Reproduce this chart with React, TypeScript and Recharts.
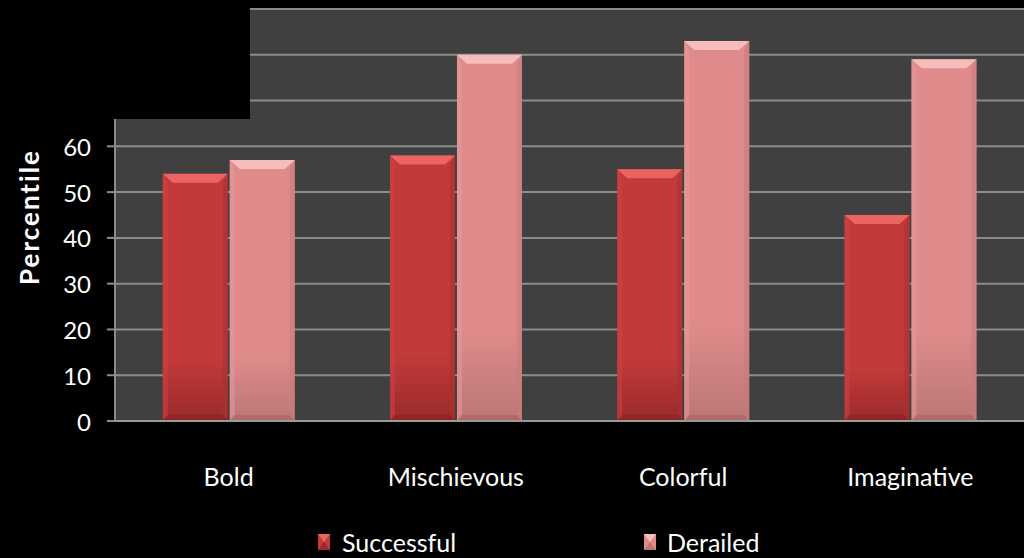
import React from 'react';
import { BarChart, Bar, XAxis, YAxis, CartesianGrid, Legend } from 'recharts';

// Percentile scores per trait
const traits = ['Bold', 'Mischievous', 'Colorful', 'Imaginative'];
const successful = [54, 58, 55, 45];
const derailed = [57, 80, 83, 79];
const yTicks = [0, 10, 20, 30, 40, 50, 60, 70, 80, 90];
const labelledTicks = [0, 10, 20, 30, 40, 50, 60];

const data = traits.map((t, i) => ({ trait: t, successful: successful[i], derailed: derailed[i] }));

const FONT = 'Lato, "Open Sans", sans-serif';

type Palette = { top: string; main: string; bottom: string; left: string; right: string; base: string };

const palettes: Record<string, Palette> = {
  successful: {
    top: '#ea6461',
    main: '#c23a3a',
    bottom: '#9a2a2a',
    left: '#cc4444',
    right: '#a83030',
    base: '#8a2424',
  },
  derailed: {
    top: '#f7bdbd',
    main: '#df8b8b',
    bottom: '#bc7676',
    left: '#e69a9a',
    right: '#c87c7c',
    base: '#a86666',
  },
};

function bevelShape(key: string) {
  return (props: any) => {
    const { x, y, width: w, height: h } = props;
    if (!h || h <= 0) return <g />;
    const p = palettes[key];
    const bt = Math.min(9, h / 2);
    const bs = 5;
    const bb = Math.min(6, h / 2);
    const gid = `grad-${key}`;
    return (
      <g>
        <rect x={x} y={y} width={w} height={h} fill={`url(#${gid})`} />
        <polygon points={`${x},${y} ${x + bs},${y + bt} ${x + bs},${y + h - bb} ${x},${y + h}`} fill={p.left} opacity={0.55} />
        <polygon points={`${x + w},${y} ${x + w - bs},${y + bt} ${x + w - bs},${y + h - bb} ${x + w},${y + h}`} fill={p.right} opacity={0.6} />
        <polygon points={`${x},${y + h} ${x + bs},${y + h - bb} ${x + w - bs},${y + h - bb} ${x + w},${y + h}`} fill={p.base} opacity={0.7} />
        <polygon points={`${x},${y} ${x + w},${y} ${x + w - bs * 2},${y + bt} ${x + bs * 2},${y + bt}`} fill={p.top} />
      </g>
    );
  };
}

const LegendIcon = ({ k }: { k: string }) => {
  const p = palettes[k];
  return (
    <svg width={12} height={16} style={{ display: 'inline-block', verticalAlign: 'middle' }}>
      <rect x={0} y={0} width={12} height={16} fill={p.main} />
      <polygon points="0,0 12,0 6,8" fill={p.top} />
      <polygon points="0,16 12,16 6,8" fill={p.bottom} />
    </svg>
  );
};

const renderLegend = () => (
  <div style={{ position: 'relative', height: 57, fontFamily: FONT, color: '#ffffff', fontSize: 25 }}>
    <div style={{ position: 'absolute', left: 318, top: 26, display: 'flex', alignItems: 'center' }}>
      <LegendIcon k="successful" />
      <span style={{ marginLeft: 12, lineHeight: '30px' }}>Successful</span>
    </div>
    <div style={{ position: 'absolute', left: 644, top: 26, display: 'flex', alignItems: 'center' }}>
      <LegendIcon k="derailed" />
      <span style={{ marginLeft: 11, lineHeight: '30px' }}>Derailed</span>
    </div>
  </div>
);

const XTick = (props: any) => {
  const { x, y, payload } = props;
  return (
    <text x={x} y={y + 47} textAnchor="middle" dominantBaseline="central" fill="#ffffff" fontFamily={FONT} fontSize={25}>
      {payload.value}
    </text>
  );
};

const YTick = (props: any) => {
  const { x, y, payload } = props;
  if (!labelledTicks.includes(payload.value)) return <g />;
  return (
    <text x={x} y={y} textAnchor="end" dominantBaseline="central" fill="#ffffff" fontFamily={FONT} fontSize={24}>
      {payload.value}
    </text>
  );
};

export default function App() {
  return (
    <div style={{ position: 'absolute', left: 0, top: 0, width: 1024, height: 558, background: '#000000', overflow: 'hidden' }}>
      <BarChart
        width={1024}
        height={558}
        data={data}
        margin={{ top: 9, right: 0, left: 0, bottom: 0 }}
        barCategoryGap="21%"
        barGap={2}
      >
        <defs>
          {Object.keys(palettes).map((k) => (
            <linearGradient key={k} id={`grad-${k}`} x1="0" y1="0" x2="0" y2="1">
              <stop offset="0%" stopColor={palettes[k].main} />
              <stop offset="75%" stopColor={palettes[k].main} />
              <stop offset="100%" stopColor={palettes[k].bottom} />
            </linearGradient>
          ))}
        </defs>
        <CartesianGrid vertical={false} stroke="#8c8c8c" strokeWidth={2} fill="#404040" fillOpacity={1} />
        <XAxis
          dataKey="trait"
          height={80}
          axisLine={{ stroke: '#9a9a9a', strokeWidth: 2 }}
          tickLine={false}
          tick={<XTick />}
          interval={0}
        />
        <YAxis
          width={115}
          domain={[0, 90]}
          ticks={yTicks}
          interval={0}
          axisLine={{ stroke: '#8c8c8c', strokeWidth: 2 }}
          tickLine={{ stroke: '#8c8c8c', strokeWidth: 2 }}
          tickSize={8}
          tickMargin={16}
          tick={<YTick />}
          label={{
            content: () => (
              <text
                x={29}
                y={217}
                transform="rotate(-90 29 217)"
                textAnchor="middle"
                dominantBaseline="central"
                fill="#ffffff"
                fontFamily={FONT}
                fontWeight={700}
                fontSize={26}
                letterSpacing={2}
              >
                Percentile
              </text>
            ),
          }}
        />
        <Legend verticalAlign="bottom" height={57} content={renderLegend} />
        <Bar dataKey="successful" name="Successful" fill={palettes.successful.main} shape={bevelShape('successful')} isAnimationActive={false} />
        <Bar dataKey="derailed" name="Derailed" fill={palettes.derailed.main} shape={bevelShape('derailed')} isAnimationActive={false} />
      </BarChart>
      {/* black panel masking the upper-left corner of the plot */}
      <div style={{ position: 'absolute', left: 0, top: 0, width: 250, height: 119, background: '#000000' }} />
    </div>
  );
}
